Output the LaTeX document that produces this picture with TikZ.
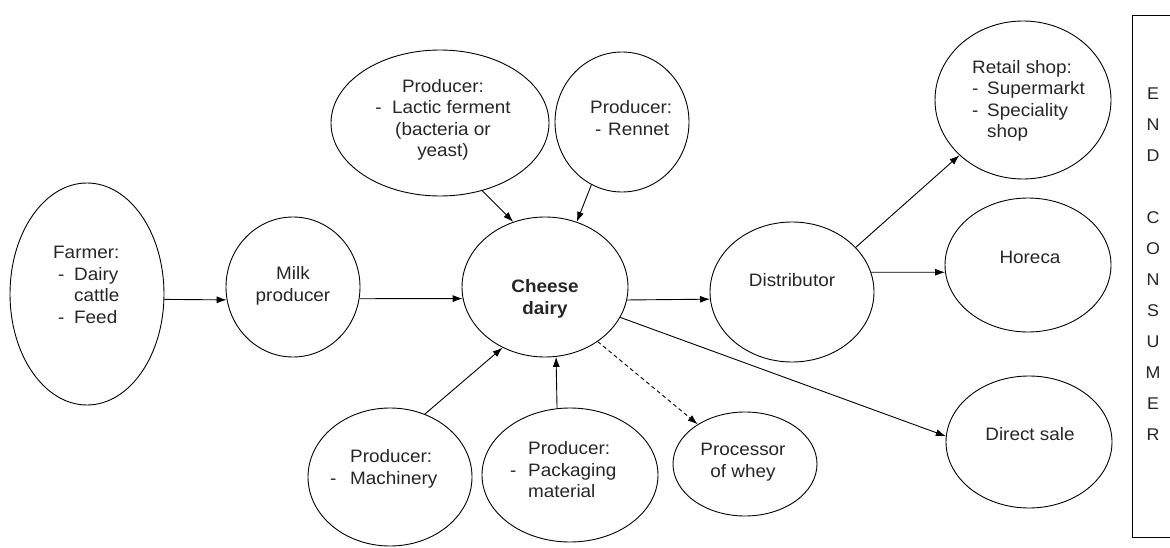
\documentclass[tikz,border=0pt]{standalone}
\usepackage{fontspec}
\setmainfont{Liberation Sans}[FakeStretch=1.05]
\usetikzlibrary{shapes.geometric,arrows.meta}
% hyphen set in a box of fixed width, for the indented list items
\newcommand{\hyph}[1]{\makebox[#1][l]{-}}
\begin{document}
\begin{tikzpicture}[x=1pt,y=-1pt,
  actor/.style={ellipse, draw, line width=0.9pt, inner sep=0pt},
  lbl/.style={inner sep=0pt, text=black!85, font=\fontsize{18}{21.5}\selectfont},
  flow/.style={line width=0.9pt, -{Latex[length=10pt,width=7pt]}},
  sideflow/.style={flow, dash pattern=on 4pt off 3pt},
]
\useasboundingbox (0,0) rectangle (1170,548);
\clip (0,0) rectangle (1170,548);

% actors of the chain
\node[actor, minimum width=154pt, minimum height=222pt] (farmer)    at (87,294)  {};
\node[actor, minimum width=134pt, minimum height=140pt] (milk)      at (293,287) {};
\node[actor, minimum width=166pt, minimum height=140pt] (dairy)     at (545,287) {};
\node[actor, minimum width=164pt, minimum height=140pt] (distrib)   at (792,292) {};
\node[actor, minimum width=218pt, minimum height=146pt] (ferment)   at (440,123) {};
\node[actor, minimum width=134pt, minimum height=140pt] (rennet)    at (622,122) {};
\node[actor, minimum width=164pt, minimum height=138pt] (machinery) at (390,477) {};
\node[actor, minimum width=176pt, minimum height=134pt] (packaging) at (570,475) {};
\node[actor, minimum width=144pt, minimum height=104pt] (whey)      at (745,464) {};
\node[actor, minimum width=176pt, minimum height=158pt] (retail)    at (1023,100) {};
\node[actor, minimum width=166pt, minimum height=134pt] (horeca)    at (1028,265) {};
\node[actor, minimum width=166pt, minimum height=132pt] (direct)    at (1029,442) {};

% labels
\node[lbl, anchor=west, align=left] (farmerText) at (53,285)
  {Farmer:\\\hspace*{5pt}\hyph{16pt}Dairy\\\hspace*{21pt}cattle\\\hspace*{5pt}\hyph{16pt}Feed};
\node[lbl, align=center] (milkText) at (293,286) {Milk\\producer};
\node[lbl, align=center, font=\fontsize{18}{21.5}\selectfont\bfseries] (dairyText) at (545,299) {Cheese\\dairy};
\node[lbl, align=center] (distribText) at (792,280) {Distributor};
\node[lbl, align=center] (fermentText) at (443,120)
  {Producer:\\- \ Lactic ferment\\(bacteria or\\yeast)};
\node[lbl, anchor=west, align=left] (rennetText) at (590,118)
  {Producer:\\\hspace*{5pt}\hyph{13pt}Rennet};
\node[lbl, anchor=west, align=left] (machineryText) at (350,469)
  {Producer:\\\llap{\hyph{20pt}}Machinery};
\node[lbl, anchor=west, align=left] (packagingText) at (528,470)
  {Producer:\\\llap{\hyph{18pt}}Packaging\\material};
\node[lbl, align=center] (wheyText) at (743,462) {Processor\\of whey};
\node[lbl, anchor=west, align=left] (retailText) at (972,101)
  {Retail shop:\\\hyph{15pt}Supermarkt\\\hyph{15pt}Speciality\\\hspace*{15pt}shop};
\node[lbl, align=center] (horecaText) at (1030,257) {Horeca};
\node[lbl, align=center] (directText) at (1030,434) {Direct sale};

% end consumer column
\node[draw, line width=0.9pt, inner sep=0pt, minimum width=70pt, minimum height=522pt,
  anchor=north west] (consumer) at (1132,15) {};
\node[inner sep=0pt, align=center, text=black!85, font=\fontsize{17}{31}\selectfont] (consumerText) at (1153,264)
  {E\\N\\D\\\mbox{}\\C\\O\\N\\S\\U\\M\\E\\R};

% flows
\draw[flow] (farmer.-4) -- (milk.191);
\draw[flow] (milk.-10) -- (dairy.188);
\draw[flow] (dairy.-9) -- (distrib.185.6);
\draw[flow] (distrib.14) -- (horeca.185);
\draw[flow] (distrib.35) -- (retail.221);
\draw[flow] (dairy.-22) -- (direct.176.6);
\draw[sideflow] (dairy.-46.6) -- (whey.140);
\draw[flow] (machinery.61.7) -- (dairy.235.5);
\draw[flow] (packaging.101.8) -- (dairy.279);
\draw[flow] (ferment.-58) -- (dairy.116);
\draw[flow] (rennet.244.6) -- (dairy.64.5);
\end{tikzpicture}
\end{document}
